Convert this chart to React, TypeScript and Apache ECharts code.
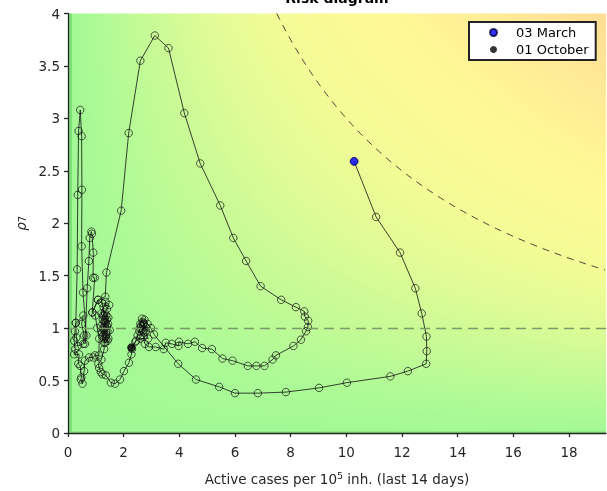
import React, { useEffect, useRef } from "react";
import * as echarts from "echarts";

// ---------- axes ----------
const X_MAX = 19.33;
const Y_MAX = 4;
const X_TICKS = [0, 2, 4, 6, 8, 10, 12, 14, 16, 18];
const Y_TICKS = [0, 0.5, 1, 1.5, 2, 2.5, 3, 3.5, 4];
const RISK_LEVEL = 30; // isoline: cases x rho7 = 30
const RHO_THRESHOLD = 1;

// ---------- data ----------
const startMarch = [[10.28, 2.59]];
const endOctober = [[2.28, 0.815]];

const rightLobe = [
  [11.07, 2.06], [11.93, 1.72], [12.48, 1.38], [12.71, 1.14], [12.88, 0.92],
  [12.89, 0.78], [12.87, 0.66], [12.21, 0.59], [11.58, 0.54], [10.02, 0.48],
  [9.02, 0.43], [7.83, 0.39], [6.82, 0.38], [6.0, 0.38], [5.43, 0.44],
  [4.6, 0.51], [3.96, 0.66], [3.09, 0.94],
];

const humpA = [
  [2.98, 1.0], [2.86, 1.04], [2.75, 1.08], [2.68, 1.06], [2.63, 1.02],
  [2.7, 0.98], [2.8, 1.01], [2.72, 1.05], [2.66, 1.09], [2.6, 1.04],
  [2.56, 0.97], [2.62, 0.93], [2.74, 0.96], [2.69, 1.03], [2.58, 1.0],
  [2.5, 0.93], [2.42, 0.87], [2.3, 0.8],
];

const valley = [
  [2.28, 0.75], [2.19, 0.67], [2.01, 0.59], [1.87, 0.51], [1.69, 0.47],
  [1.54, 0.48], [1.36, 0.55], [1.24, 0.56], [1.18, 0.58], [1.12, 0.62],
  [1.09, 0.66], [1.2, 0.7], [1.3, 0.8],
];

const denseColumn = [
  [1.3, 0.86], [1.35, 0.92], [1.28, 0.98], [1.4, 1.02], [1.33, 1.08],
  [1.25, 1.0], [1.38, 0.94], [1.42, 0.88], [1.3, 0.9], [1.22, 0.96],
  [1.36, 1.05], [1.45, 1.1], [1.32, 1.15], [1.26, 1.12], [1.4, 1.18],
  [1.48, 1.22], [1.35, 1.25], [1.28, 1.2], [1.2, 1.14], [1.3, 1.06],
  [1.42, 0.97], [1.37, 0.9], [1.27, 0.93], [1.33, 1.0], [1.44, 1.04],
  [1.38, 1.12], [1.25, 1.08], [1.18, 1.02], [1.24, 0.92], [1.34, 0.86],
  [1.45, 0.9], [1.5, 0.98], [1.4, 1.08], [1.3, 1.12], [1.22, 1.24],
  [1.08, 1.27], [0.88, 1.15], [0.98, 1.12], [1.05, 1.0], [1.12, 0.9],
  [1.11, 0.74],
];

const lowLeft = [
  [0.96, 0.74], [0.91, 0.72], [0.76, 0.72], [0.61, 0.69], [0.58, 0.59],
  [0.52, 0.47], [0.46, 0.51], [0.48, 0.53], [0.44, 0.64], [0.37, 0.66],
  [0.4, 0.75], [0.22, 0.75], [0.26, 0.8], [0.22, 0.88], [0.25, 0.97],
  [0.28, 1.05], [0.3, 0.91], [0.35, 0.83], [0.55, 0.85], [0.58, 0.93],
  [0.49, 1.04], [0.55, 1.12], [0.28, 1.05],
];

const spikes = [
  [0.33, 1.56], [0.35, 2.27], [0.38, 2.88], [0.44, 3.08], [0.49, 2.83],
  [0.5, 2.32], [0.49, 1.78], [0.54, 1.34], [0.66, 0.93], [0.61, 0.85],
  [0.69, 1.38], [0.75, 1.64], [0.78, 1.86], [0.84, 1.92], [0.86, 1.9],
  [0.91, 1.72], [0.9, 1.48], [0.96, 1.48], [0.87, 1.15], [1.08, 1.27],
];

const bigLobe = [
  [1.34, 1.3], [1.38, 1.53], [1.91, 2.12], [2.18, 2.86], [2.6, 3.55],
  [3.12, 3.79], [3.61, 3.67], [4.18, 3.05], [4.75, 2.57], [5.47, 2.17],
  [5.94, 1.86], [6.4, 1.64], [6.92, 1.4], [7.66, 1.27], [8.19, 1.2],
  [8.49, 1.16], [8.51, 1.11], [8.63, 1.07], [8.62, 1.01], [8.55, 0.97],
  [8.37, 0.89], [8.1, 0.83], [7.47, 0.74], [7.35, 0.7], [7.06, 0.64],
  [6.77, 0.64], [6.46, 0.64], [5.91, 0.69], [5.55, 0.71], [5.17, 0.8],
  [4.82, 0.81], [4.56, 0.87], [4.31, 0.85], [3.99, 0.87], [3.97, 0.83],
  [3.73, 0.85], [3.51, 0.86], [3.44, 0.8], [3.15, 0.82], [2.91, 0.82],
  [2.76, 0.85],
];

const humpB = [
  [2.7, 0.92], [2.64, 0.99], [2.72, 1.04], [2.8, 0.97], [2.88, 0.9],
  [2.6, 0.9], [2.45, 0.88],
];

const trajectory = [
  ...startMarch, ...rightLobe, ...humpA, ...valley, ...denseColumn,
  ...lowLeft, ...spikes, ...bigLobe, ...humpB, ...endOctober,
];

// reference isoline x * rho7 = RISK_LEVEL
const isoline: number[][] = [];
for (let x = RISK_LEVEL / Y_MAX; x <= X_MAX + 0.001; x += 0.1) {
  isoline.push([x, RISK_LEVEL / x]);
}

// ---------- background colour scale (style) ----------
const COLOR_STOPS: number[][] = [
  [0, 162, 248, 150],
  [3, 170, 250, 150],
  [10, 195, 250, 150],
  [20, 225, 251, 150],
  [30, 244, 251, 150],
  [45, 255, 249, 150],
  [60, 255, 236, 150],
  [80, 255, 218, 148],
];

function colorAt(v: number): number[] {
  if (v <= COLOR_STOPS[0][0]) return COLOR_STOPS[0].slice(1);
  for (let i = 1; i < COLOR_STOPS.length; i++) {
    const a = COLOR_STOPS[i - 1];
    const b = COLOR_STOPS[i];
    if (v <= b[0]) {
      const t = (v - a[0]) / (b[0] - a[0]);
      return [a[1] + (b[1] - a[1]) * t, a[2] + (b[2] - a[2]) * t, a[3] + (b[3] - a[3]) * t];
    }
  }
  return COLOR_STOPS[COLOR_STOPS.length - 1].slice(1);
}

function makeBackground(w: number, h: number): string {
  const c = document.createElement("canvas");
  c.width = w;
  c.height = h;
  const ctx = c.getContext("2d");
  if (!ctx) return "";
  const img = ctx.createImageData(w, h);
  for (let py = 0; py < h; py++) {
    for (let px = 0; px < w; px++) {
      const x = ((px + 0.5) / w) * X_MAX;
      const y = (1 - (py + 0.5) / h) * Y_MAX;
      let [r, g, b] = colorAt(x * y);
      if (px < 4 || py >= h - 2) {
        r -= 35; g -= 25; b -= 30;
      }
      const k = (py * w + px) * 4;
      img.data[k] = r;
      img.data[k + 1] = g;
      img.data[k + 2] = b;
      img.data[k + 3] = 255;
    }
  }
  ctx.putImageData(img, 0, 0);
  return c.toDataURL();
}

const FONT = "DejaVu Sans";

export default function App() {
  const ref = useRef<HTMLDivElement>(null);

  useEffect(() => {
    if (!ref.current) return;
    const chart = echarts.init(ref.current, null, { renderer: "svg" });
    const option: any = {
      animation: false,
      textStyle: { fontFamily: FONT },
      grid: { left: 68, right: 1, top: 13.5, bottom: 55, containLabel: false },
      legend: {
        data: ["03 March", "01 October"],
        orient: "vertical",
        left: 469,
        top: 22,
        icon: "circle",
        itemWidth: 35,
        itemHeight: 7,
        itemGap: 4,
        padding: [4, 7, 4, 20],
        borderColor: "#222",
        borderWidth: 2,
        backgroundColor: "#fff",
        textStyle: { fontFamily: FONT, fontSize: 13, color: "#000" },
      },
      xAxis: {
        type: "value",
        min: 0,
        max: X_MAX,
        interval: 2,
        z: 5,
        splitLine: { show: false },
        axisLine: { lineStyle: { color: "#262626", width: 1.3 } },
        axisTick: { customValues: X_TICKS, length: 4, lineStyle: { color: "#262626", width: 1.3 } },
        axisLabel: { customValues: X_TICKS, fontSize: 13.5, color: "#262626", margin: 12, fontFamily: FONT },
        name: "Active cases per 10{sup|5} inh. (last 14 days)",
        nameLocation: "middle",
        nameGap: 37,
        nameTextStyle: {
          fontSize: 13.5,
          color: "#262626",
          fontFamily: FONT,
          rich: { sup: { fontSize: 9.5, color: "#262626", padding: [0, 0, 8, 0], fontFamily: FONT } },
        },
      },
      yAxis: {
        type: "value",
        min: 0,
        max: Y_MAX,
        interval: 0.5,
        z: 5,
        splitLine: { show: false },
        axisLine: { show: true, lineStyle: { color: "#262626", width: 1.3 } },
        axisTick: { show: true, customValues: Y_TICKS, length: 4, lineStyle: { color: "#262626", width: 1.3 } },
        axisLabel: { customValues: Y_TICKS, fontSize: 13.5, color: "#262626", margin: 8, fontFamily: FONT },
        name: "{i|ρ}{s|7}",
        nameLocation: "middle",
        nameGap: 40,
        nameRotate: 90,
        nameTextStyle: {
          color: "#262626",
          rich: {
            i: { fontSize: 13.5, fontStyle: "italic", color: "#262626", fontFamily: FONT },
            s: { fontSize: 10, color: "#262626", padding: [0, 0, -4, 0], fontFamily: FONT },
          },
        },
      },
      series: [
        {
          type: "line",
          name: "risk isoline",
          data: isoline,
          showSymbol: false,
          symbol: "none",
          silent: true,
          z: 2,
          lineStyle: { color: "#1a1a1a", width: 0.8, type: [7, 6] },
        },
        {
          type: "line",
          name: "threshold",
          data: [],
          silent: true,
          markLine: {
            symbol: "none",
            silent: true,
            label: { show: false },
            lineStyle: { color: "#7a9c66", width: 1.4, type: [10, 6] },
            data: [{ yAxis: RHO_THRESHOLD }],
          },
        },
        {
          type: "line",
          name: "trajectory",
          data: trajectory,
          symbol: "circle",
          symbolSize: 7.5,
          z: 3,
          itemStyle: { color: "rgba(0,0,0,0)", borderColor: "#111", borderWidth: 0.7 },
          lineStyle: { color: "#111", width: 0.8 },
        },
        {
          type: "scatter",
          name: "03 March",
          data: startMarch,
          symbol: "circle",
          symbolSize: 8,
          z: 4,
          itemStyle: { color: "#0000ff", borderColor: "#000044", borderWidth: 0.6 },
        },
        {
          type: "scatter",
          name: "01 October",
          data: endOctober,
          symbol: "circle",
          symbolSize: 8,
          z: 4,
          itemStyle: { color: "#000000" },
        },
      ],
    };
    chart.setOption(option);

    const p0 = chart.convertToPixel({ gridIndex: 0 }, [0, 0]) as number[];
    const p1 = chart.convertToPixel({ gridIndex: 0 }, [X_MAX, Y_MAX]) as number[];
    const w = Math.round(p1[0] - p0[0]);
    const h = Math.round(p0[1] - p1[1]);
    const url = makeBackground(w, h);
    chart.setOption({
      graphic: [
        {
          type: "image",
          id: "bg",
          x: p0[0],
          y: p1[1],
          z: -10,
          silent: true,
          style: { image: url, width: w, height: h },
        },
        {
          type: "text",
          id: "title",
          x: (p0[0] + p1[0]) / 2,
          y: 5,
          z: 10,
          style: {
            text: "Risk diagram",
            fontFamily: FONT,
            fontSize: 14,
            fontWeight: "bold",
            fill: "#000",
            align: "center",
            verticalAlign: "bottom",
          },
        },
      ],
    });

    return () => chart.dispose();
  }, []);

  return (
    <div
      ref={ref}
      style={{ position: "fixed", left: 0, top: 0, width: 607, height: 491 }}
    />
  );
}
